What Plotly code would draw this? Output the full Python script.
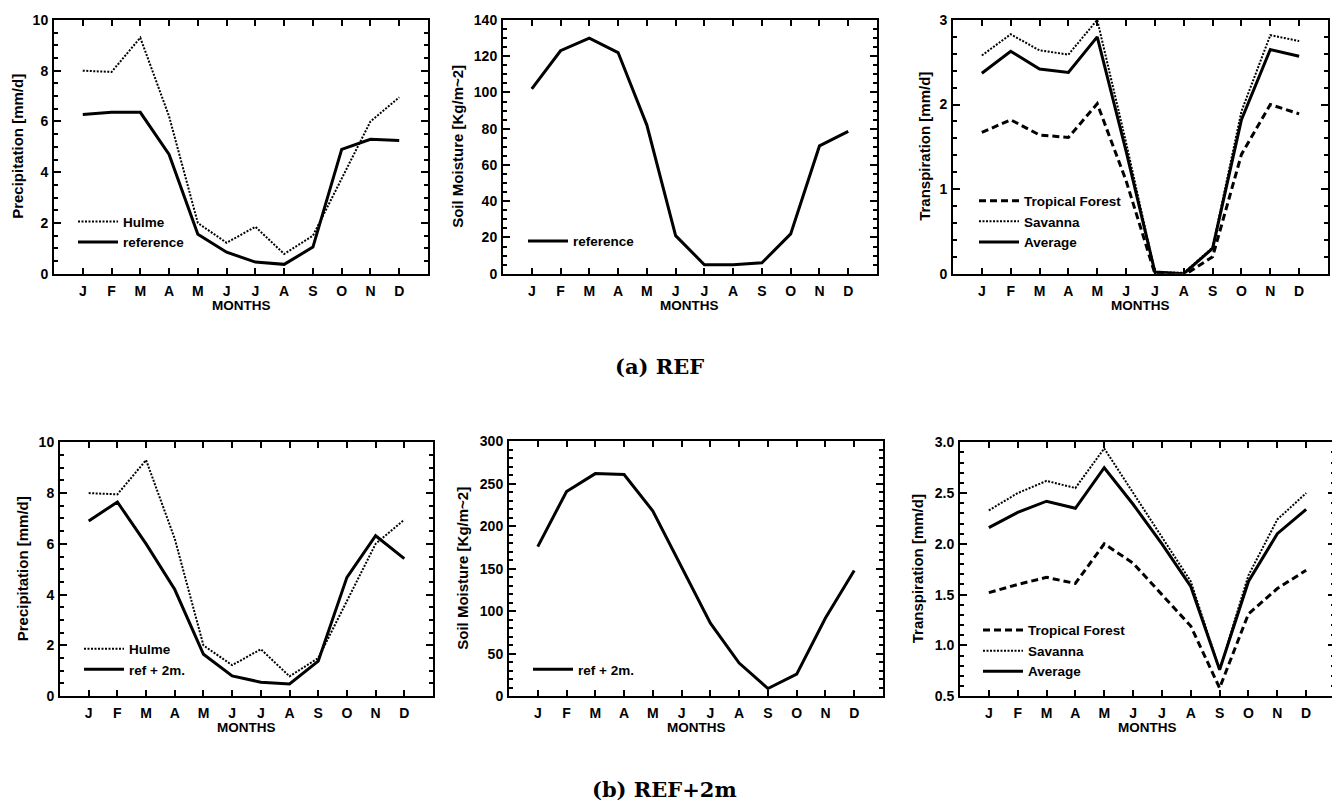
import plotly.graph_objects as go

# ---------------- data ----------------
months = ["J", "F", "M", "A", "M", "J", "J", "A", "S", "O", "N", "D"]
month_idx = list(range(1, 13))

# (a) REF
hulme = [8.0, 7.95, 9.3, 6.2, 2.0, 1.22, 1.85, 0.78, 1.5, 3.75, 6.0, 6.95]
precip_ref = [6.27, 6.36, 6.36, 4.7, 1.56, 0.85, 0.46, 0.37, 1.05, 4.9, 5.3, 5.25]
soil_ref = [102, 123, 130, 122, 82, 21, 5, 5, 6, 22, 70.5, 78.5]
tf_ref = [1.67, 1.82, 1.64, 1.61, 2.01, 1.1, 0.0, -0.02, 0.2, 1.41, 2.0, 1.89]
sav_ref = [2.58, 2.83, 2.64, 2.59, 3.0, 1.55, 0.02, 0.01, 0.31, 1.92, 2.82, 2.75]
avg_ref = [2.37, 2.63, 2.42, 2.38, 2.8, 1.45, 0.02, 0.0, 0.3, 1.82, 2.65, 2.57]

# (b) REF+2m
precip_2m = [6.9, 7.65, 6.0, 4.2, 1.65, 0.8, 0.55, 0.48, 1.38, 4.68, 6.32, 5.42]
soil_2m = [176, 241, 262, 261, 218, 152, 86, 39, 9, 26, 92, 148]
tf_2m = [1.52, 1.6, 1.67, 1.61, 2.0, 1.81, 1.5, 1.19, 0.58, 1.31, 1.56, 1.74]
sav_2m = [2.33, 2.5, 2.62, 2.55, 2.94, 2.5, 2.06, 1.63, 0.76, 1.69, 2.24, 2.5]
avg_2m = [2.16, 2.31, 2.42, 2.35, 2.75, 2.39, 2.0, 1.58, 0.76, 1.63, 2.1, 2.34]

# ---------------- layout helpers ----------------
PAGE_OFF = 8                 # default body margin of the html page
FW, FH = 1340 - PAGE_OFF, 810 - PAGE_OFF
FONT = "Liberation Sans"

def X(px):
    return (px - PAGE_OFF) / FW

def Y(py):
    return 1 - (py - PAGE_OFF) / FH

panels = [
    # (x0, x1, top, bottom, yrange, dtick, minor, ytitle, title_x, tickformat)
    (54, 428, 12, 271, [0, 10], 2, 0.5, "Precipitation [mm/d]", 18, ""),
    (503, 877, 12, 271, [0, 140], 20, 5, "Soil Moisture [Kg/m~2]", 458, ""),
    (953, 1328, 12, 271, [0, 3], 1, 0.2, "Transpiration [mm/d]", 925, ""),
    (60, 433, 443, 702, [0, 10], 2, 0.5, "Precipitation [mm/d]", 22, ""),
    (509, 883, 442, 702, [0, 300], 50, 10, "Soil Moisture [Kg/m~2]", 463, ""),
    (960, 1335, 443, 702, [0.5, 3.0], 0.5, 0.1, "Transpiration [mm/d]", 917, ".1f"),
]

fig = go.Figure()

SOLID = dict(color="black", width=3)
DOT = dict(color="black", width=2, dash="2px,1.5px")
DASH = dict(color="black", width=3, dash="7px,4px")

series = [
    # panel index, y, name, line, legend
    (0, hulme, "Hulme", DOT, "legend"),
    (0, precip_ref, "reference", SOLID, "legend"),
    (1, soil_ref, "reference", SOLID, "legend2"),
    (2, tf_ref, "Tropical Forest", DASH, "legend3"),
    (2, sav_ref, "Savanna", DOT, "legend3"),
    (2, avg_ref, "Average", SOLID, "legend3"),
    (3, hulme, "Hulme", DOT, "legend4"),
    (3, precip_2m, "ref + 2m.", SOLID, "legend4"),
    (4, soil_2m, "ref + 2m.", SOLID, "legend5"),
    (5, tf_2m, "Tropical Forest", DASH, "legend6"),
    (5, sav_2m, "Savanna", DOT, "legend6"),
    (5, avg_2m, "Average", SOLID, "legend6"),
]

for p, yv, name, line, leg in series:
    sfx = "" if p == 0 else str(p + 1)
    fig.add_trace(go.Scatter(
        x=month_idx, y=yv, mode="lines", name=name, line=line,
        xaxis="x" + sfx, yaxis="y" + sfx, legend=leg, showlegend=True,
    ))

annotations = []
layout = {}
for i, (x0, x1, top, bottom, yr, dt, mn, ytitle, tx, tfmt) in enumerate(panels):
    sfx = "" if i == 0 else str(i + 1)
    layout["xaxis" + sfx] = dict(
        domain=[X(x0), X(x1)], anchor="y" + sfx, range=[0, 13],
        tickmode="array", tickvals=month_idx, ticktext=months,
        ticks="inside", ticklen=6, tickwidth=2, tickcolor="black",
        showline=True, linecolor="black", linewidth=2, mirror="ticks",
        showgrid=False, zeroline=False, ticklabelstandoff=3,
        tickfont=dict(family=FONT, size=14, color="black", weight="bold"),
    )
    layout["yaxis" + sfx] = dict(
        domain=[Y(bottom), Y(top)], anchor="x" + sfx, range=yr,
        tick0=yr[0], dtick=dt, tickformat=tfmt,
        ticks="inside", ticklen=7, tickwidth=2, tickcolor="black",
        minor=dict(dtick=mn, ticks="inside", ticklen=4, tickwidth=1.5,
                   tickcolor="black", showgrid=False),
        showline=True, linecolor="black", linewidth=2, mirror="ticks",
        showgrid=False, zeroline=False, ticklabelstandoff=1,
        tickfont=dict(family=FONT, size=14, color="black", weight="bold"),
    )
    annotations.append(dict(
        text=ytitle, textangle=-90, x=X(tx), y=Y((top + bottom) / 2),
        xref="paper", yref="paper", showarrow=False, xanchor="center", yanchor="middle",
        font=dict(family=FONT, size=15, color="black", weight="bold"),
    ))
    annotations.append(dict(
        text="MONTHS", x=X((x0 + x1) / 2), y=Y(bottom + 32),
        xref="paper", yref="paper", showarrow=False, xanchor="center", yanchor="middle",
        font=dict(family=FONT, size=13.5, color="black", weight="bold"),
    ))

annotations.append(dict(
    text="<b>(a) REF</b>", x=X(659), y=Y(366), xref="paper", yref="paper",
    showarrow=False, xanchor="center", yanchor="middle",
    font=dict(family="DejaVu Serif", size=21, color="black"),
))
annotations.append(dict(
    text="<b>(b) REF+2m</b>", x=X(664), y=Y(797), xref="paper", yref="paper",
    showarrow=False, xanchor="center", yanchor="middle",
    font=dict(family="DejaVu Serif", size=21, color="black"),
))

# legend top-left corners (reference pixel coordinates)
legend_pos = {
    "legend": (73, 202),
    "legend2": (523, 222),
    "legend3": (974, 181),
    "legend4": (79, 638),
    "legend5": (528, 659),
    "legend6": (978, 619),
}
for key, (lx, ly) in legend_pos.items():
    layout[key] = dict(
        x=X(lx), y=Y(ly), xref="paper", yref="paper",
        xanchor="left", yanchor="top", bgcolor="rgba(0,0,0,0)",
        borderwidth=0, itemwidth=40, tracegroupgap=0, traceorder="normal",
        font=dict(family=FONT, size=13.5, color="black", weight="bold"),
    )

fig.update_layout(
    width=FW, height=FH, margin=dict(l=0, r=0, t=0, b=0),
    paper_bgcolor="white", plot_bgcolor="white",
    annotations=annotations, **layout,
)

fig.write_html("out.html")
